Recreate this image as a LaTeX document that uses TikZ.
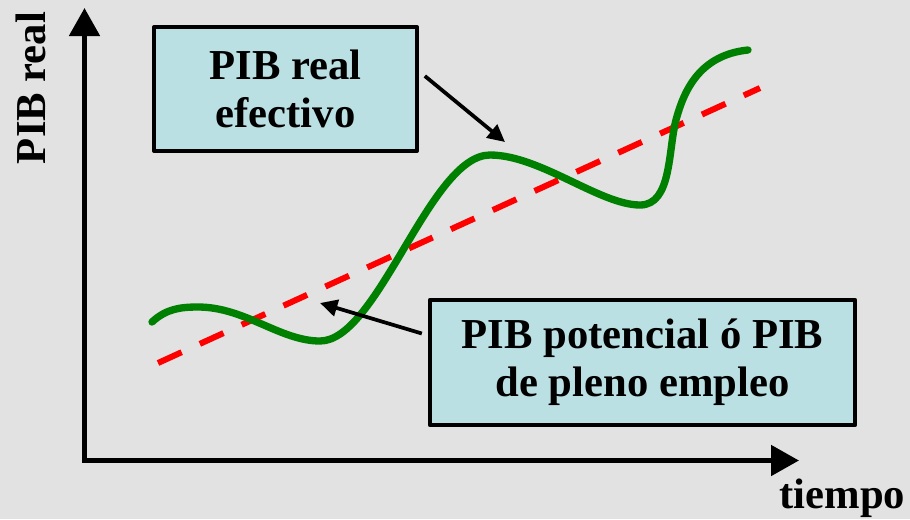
\documentclass[tikz,border=0pt]{standalone}
\usepackage{fontspec}
\setmainfont{Liberation Serif}
\usetikzlibrary{arrows.meta}
\definecolor{fondo}{RGB}{226,226,226}
\definecolor{azulcaja}{RGB}{187,224,227}
\definecolor{verde}{RGB}{0,128,0}
\tikzset{
	caja/.style={draw=black,line width=3pt,fill=azulcaja,inner sep=0pt,align=center,font=\bfseries\fontsize{32}{36}\selectfont},
	rotulo/.style={inner sep=0pt,font=\bfseries\fontsize{32}{36}\selectfont},
	eje/.style={line width=3.75pt,line join=miter,{Triangle[length=21pt,width=22.5pt]}-{Triangle[length=21pt,width=22.5pt]}},
	flecha/.style={line width=2.8pt,-{Triangle[length=13pt,width=12.5pt]}}
}
\begin{document}
\begin{tikzpicture}[x=0.75pt,y=-0.75pt,line join=round,>=stealth]
	\fill[fondo] (0,0) rectangle (910,519);
	\useasboundingbox (0,0) rectangle (910,519);
	\path 
	(84.5,460.5) coordinate (O)
	(84.5,8) coordinate (Y)
	(799,460.5) coordinate (X)
	(158,363) coordinate (P1)
	(760,88) coordinate (P2)
	(505,142) coordinate (T1)
	(320,303) coordinate (T2)
	;
	\draw[eje] (Y)--(O)--(X);
	\draw[red,line width=4.5pt,dash pattern=on 19.5pt off 15pt] (P1)--(P2);
	\draw[verde,line width=5.5pt,line cap=round] (152,322) .. controls (166,309) and (180,307) .. (198,307)
		.. controls (245,307) and (280,341) .. (320,341)
		.. controls (378,341) and (430,155) .. (490,155)
		.. controls (540,155) and (600,205) .. (640,205)
		.. controls (672,205) and (668,150) .. (676,120)
		.. controls (684,90) and (700,55) .. (748,50);
	\node[caja,minimum width=197pt,minimum height=93pt] (efectivo) at (285.5,89) {PIB real\\efectivo};
	\node[caja,minimum width=319pt,minimum height=94pt] (potencial) at (642.5,362.5) {PIB potencial ó PIB\\de pleno empleo};
	\node[rotulo,rotate=90] (ejey) at (31,88) {PIB real};
	\node[rotulo,anchor=base] (ejex) at (842.5,508) {tiempo};
	\path (efectivo.east) ++(6,-13) coordinate (S1);
	\path (potencial.west) ++(-6,-29) coordinate (S2);
	\draw[flecha] (S1)--(T1);
	\draw[flecha] (S2)--(T2);
\end{tikzpicture}
\end{document}
